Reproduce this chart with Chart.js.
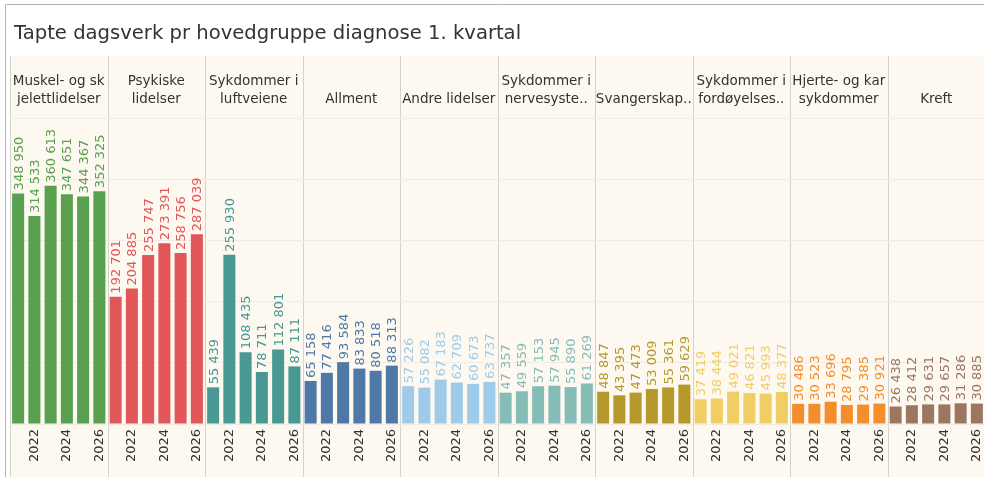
<!DOCTYPE html>
<html>
<head>
<meta charset="utf-8">
<script src="https://cdn.jsdelivr.net/npm/chart.js@4"></script>
<style>
  html, body { margin: 0; padding: 0; background: #fff; overflow: hidden; }
  #wrap { position: relative; width: 984px; height: 477px; overflow: hidden; }
  #title { position: absolute; left: 14px; top: 21px; font: 19.6px "DejaVu Sans", sans-serif; color: #333; white-space: nowrap; }
  canvas { position: absolute; left: 0; top: 0; }
</style>
</head>
<body>
<div id="wrap">
  <canvas id="myChart" width="990" height="477"></canvas>
  <div id="title">Tapte dagsverk pr hovedgruppe diagnose 1. kvartal</div>
</div>
<script>
// years shown inside every group
const years = ['2021', '2022', '2023', '2024', '2025', '2026'];

// group headers, as they are wrapped/cut in the picture
const groupNames = [
    ['Muskel- og sk', 'jelettlidelser'],
    ['Psykiske', 'lidelser'],
    ['Sykdommer i', 'luftveiene'],
    ['Allment'],
    ['Andre lidelser'],
    ['Sykdommer i', 'nervesyste..'],
    ['Svangerskap..'],
    ['Sykdommer i', 'fordøyelses..'],
    ['Hjerte- og kar', 'sykdommer'],
    ['Kreft']
];
const groupColors = ['#59a14f', '#e15759', '#499894', '#4e79a7', '#a0cbe8',
                     '#86bcb6', '#b6992d', '#f1ce63', '#f28e2b', '#9d7660'];

// tapte dagsverk per year
const muskel = [348950, 314533, 360613, 347651, 344367, 352325];
const psykiske = [192701, 204885, 255747, 273391, 258756, 287039];
const luftveiene = [55439, 255930, 108435, 78711, 112801, 87111];
const allment = [65158, 77416, 93584, 83833, 80518, 88313];
const andre = [57226, 55082, 67183, 62709, 60673, 63737];
const nervesystem = [47357, 49559, 57153, 57945, 55890, 61269];
const svangerskap = [48847, 43395, 47473, 53009, 55361, 59629];
const fordoyelse = [37419, 38444, 49021, 46821, 45993, 48377];
const hjerte = [30486, 30523, 33696, 28795, 29385, 30921];
const kreft = [26438, 28412, 29631, 29657, 31286, 30885];

const groupValues = [muskel, psykiske, luftveiene, allment, andre, nervesystem, svangerskap, fordoyelse, hjerte, kreft];

// flatten into one category axis (group x year)
const labels = [];
const values = [];
const colors = [];
groupValues.forEach((vals, g) => {
    vals.forEach((v, i) => {
        labels.push(years[i]);
        values.push(v);
        colors.push(groupColors[g]);
    });
});

const fmt = v => String(v).replace(/\B(?=(\d{3})+(?!\d))/g, ' ');

const panelPlugin = {
    id: 'panels',
    beforeDraw(chart) {
        const { ctx, chartArea } = chart;
        const step = (chartArea.right - chartArea.left) / groupNames.length;
        ctx.save();
        // cream panel
        ctx.fillStyle = '#fdf8f0';
        ctx.fillRect(10, 56, chart.width - 10, chart.height - 56);
        // outer border
        ctx.strokeStyle = '#b4b4b4';
        ctx.lineWidth = 1;
        ctx.beginPath();
        ctx.moveTo(5.5, chart.height);
        ctx.lineTo(5.5, 4.5);
        ctx.lineTo(chart.width, 4.5);
        ctx.stroke();
        // header line + axis line
        ctx.strokeStyle = '#d9d6d0';
        ctx.beginPath();
        ctx.moveTo(10, chartArea.top + 0.5);
        ctx.lineTo(chart.width, chartArea.top + 0.5);
        ctx.stroke();
        ctx.strokeStyle = '#c8c8c8';
        ctx.beginPath();
        ctx.moveTo(10, chartArea.bottom + 0.5);
        ctx.lineTo(chart.width, chartArea.bottom + 0.5);
        ctx.stroke();
        // group separators
        ctx.strokeStyle = '#d4d2ce';
        for (let g = 0; g <= groupNames.length; g++) {
            const x = Math.round(chartArea.left + g * step) + 0.5;
            ctx.beginPath();
            ctx.moveTo(x, 56);
            ctx.lineTo(x, chart.height);
            ctx.stroke();
        }
        // headers
        ctx.fillStyle = '#333';
        ctx.font = '13.5px "DejaVu Sans", sans-serif';
        ctx.textAlign = 'center';
        ctx.textBaseline = 'middle';
        groupNames.forEach((lines, g) => {
            const cx = chartArea.left + (g + 0.5) * step;
            lines.forEach((t, k) => {
                const y = 99 - (lines.length - 1 - k) * 18;
                ctx.fillText(t, cx, y);
            });
        });
        ctx.restore();
    },
    afterDatasetsDraw(chart) {
        const { ctx } = chart;
        const meta = chart.getDatasetMeta(0);
        ctx.save();
        ctx.font = '13px "DejaVu Sans", sans-serif';
        ctx.textAlign = 'left';
        ctx.textBaseline = 'middle';
        meta.data.forEach((bar, i) => {
            ctx.fillStyle = colors[i];
            ctx.save();
            ctx.translate(bar.x + 1, bar.y - 3);
            ctx.rotate(-Math.PI / 2);
            ctx.fillText(fmt(values[i]), 0, 0);
            ctx.restore();
        });
        ctx.restore();
    }
};

const data = {
    labels: labels,
    datasets: [{
        label: 'Tapte dagsverk',
        data: values,
        backgroundColor: colors,
        borderWidth: 0,
        categoryPercentage: 1,
        barPercentage: 0.74
    }]
};

const config = {
    type: 'bar',
    data,
    options: {
        responsive: false,
        animation: false,
        layout: { padding: { left: 10, right: 5, top: 118, bottom: 0 } },
        plugins: { legend: { display: false }, tooltip: { enabled: false }, title: { display: false } },
        scales: {
            x: {
                grid: { display: false, drawTicks: false },
                border: { display: false },
                ticks: {
                    autoSkip: false,
                    minRotation: 90,
                    maxRotation: 90,
                    padding: 5,
                    color: '#333',
                    font: { family: 'DejaVu Sans', size: 13 },
                    callback: function (val, idx) {
                        return idx % 2 === 1 ? labels[idx] : '';
                    }
                },
                afterFit(scale) {
                    scale.height = 53;
                    scale.paddingLeft = 0;
                    scale.paddingRight = 0;
                }
            },
            y: {
                min: 0,
                max: 463000,
                ticks: { display: false, stepSize: 100000 },
                grid: { color: '#f1ece3', drawTicks: false },
                border: { display: false },
                afterFit(scale) {
                    scale.width = 0;
                    scale.paddingTop = 0;
                    scale.paddingBottom = 0;
                }
            }
        }
    },
    plugins: [panelPlugin]
};

const myChart = new Chart(document.querySelector('#myChart'), config);
</script>
</body>
</html>
